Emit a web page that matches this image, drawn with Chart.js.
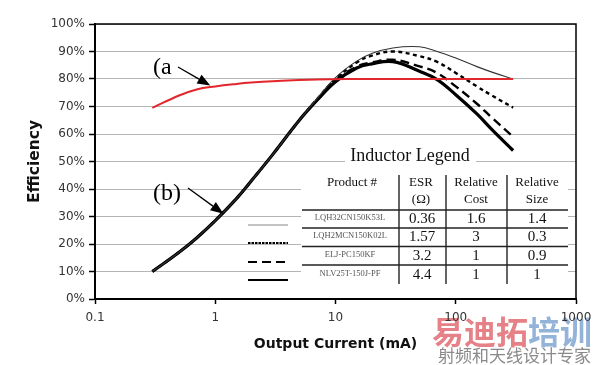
<!DOCTYPE html>
<html>
<head>
<meta charset="utf-8">
<script src="https://cdn.jsdelivr.net/npm/chart.js@4.4.0/dist/chart.umd.min.js"></script>
<style>
  html, body { margin: 0; padding: 0; background: #fff; }
  #wrap { width: 600px; height: 365px; }
</style>
</head>
<body>
<div id="wrap"><canvas id="effChart" width="600" height="365"></canvas></div>
<script>
// output current (mA) and efficiency (%)
let currents = [0.3, 0.5, 0.7, 1, 1.5, 2, 3, 5, 7, 10, 15, 20, 30, 50, 70, 100, 150, 200, 300];
let curveA = [69.5, 74, 76.2, 77.3, 78.2, 78.7, 79.2, 79.6, 79.8, 79.9, 80, 80, 80, 80, 80, 80, 80, 80, 80];
let lqh32 = [10, 17, 22.2, 28.5, 36.5, 43, 52.5, 65, 72.8, 80.5, 86.5, 89.3, 91.3, 91.7, 90, 87.6, 84.5, 82.5, 80];
let lqh2m = [10, 17, 22.2, 28.5, 36.5, 43, 52.5, 65, 72.6, 80, 86, 88.5, 90, 88.3, 86.2, 82.2, 77.3, 74, 69.6];
let eljpc = [10, 17, 22.2, 28.5, 36.5, 43, 52.5, 65, 72.4, 79.5, 84.5, 86, 87, 84.6, 82.2, 77.3, 71, 65.9, 59];
let nlv25 = [10, 17, 22.2, 28.5, 36.5, 43, 52.5, 65, 72.2, 79, 84, 85.5, 86.3, 82.8, 79.8, 74.3, 67.3, 61.6, 54];

let xTickValues = [0.1, 1, 10, 100, 1000];
let xTickLabels = ['0.1', '1', '10', '100', '1000'];

// legend table
let productNames = ['LQH32CN150K53L', 'LQH2MCN150K02L', 'ELJ-PC150KF', 'NLV25T-150J-PF'];
let esrValues = ['0.36', '1.57', '3.2', '4.4'];
let relCost = ['1.6', '3', '1', '1'];
let relSize = ['1.4', '0.3', '0.9', '1'];

function pts(ys) {
    return currents.map((c, i) => ({ x: c, y: ys[i] }));
}

function arrow(ctx, x1, y1, x2, y2) {
    let ang = Math.atan2(y2 - y1, x2 - x1);
    let len = 13, half = 5;
    let bx = x2 - len * Math.cos(ang), by = y2 - len * Math.sin(ang);
    ctx.strokeStyle = '#000';
    ctx.lineWidth = 1.3;
    ctx.beginPath();
    ctx.moveTo(x1, y1);
    ctx.lineTo(bx, by);
    ctx.stroke();
    ctx.fillStyle = '#000';
    ctx.beginPath();
    ctx.moveTo(x2, y2);
    ctx.lineTo(bx + half * Math.sin(ang), by - half * Math.cos(ang));
    ctx.lineTo(bx - half * Math.sin(ang), by + half * Math.cos(ang));
    ctx.closePath();
    ctx.fill();
}

const backgroundPlugin = {
    id: 'bg',
    beforeDraw(chart) {
        let ctx = chart.ctx;
        ctx.save();
        ctx.fillStyle = '#fff';
        ctx.fillRect(0, 0, chart.width, chart.height);
        // watermark
        ctx.textBaseline = 'middle';
        ctx.textAlign = 'left';
        ctx.font = 'bold 32px "Noto Sans CJK SC"';
        ctx.fillStyle = '#e58187';
        ctx.fillText('易迪拓', 432, 332);
        let w = ctx.measureText('易迪拓').width;
        ctx.fillStyle = '#94b3d9';
        ctx.fillText('培训', 432 + w, 332);
        ctx.font = '17px "Noto Sans CJK SC"';
        ctx.fillStyle = '#8a8a8a';
        ctx.fillText('射频和天线设计专家', 438, 356);
        ctx.restore();
    }
};

const overlayPlugin = {
    id: 'overlay',
    afterDraw(chart) {
        let ctx = chart.ctx;
        let a = chart.chartArea;
        let xs = chart.scales.x, ys = chart.scales.y;
        ctx.save();
        // frame top and right
        ctx.strokeStyle = '#000';
        ctx.lineWidth = 1.5;
        ctx.beginPath();
        ctx.moveTo(a.left, a.top);
        ctx.lineTo(a.right, a.top);
        ctx.lineTo(a.right, a.bottom);
        ctx.stroke();

        // (a) and (b) labels
        ctx.fillStyle = '#000';
        ctx.font = '24px "Liberation Serif"';
        ctx.textBaseline = 'alphabetic';
        ctx.textAlign = 'left';
        ctx.fillText('(a', 153, 74);
        arrow(ctx, 178, 67, xs.getPixelForValue(0.91), ys.getPixelForValue(77.6));
        ctx.fillText('(b)', 153, 200);
        arrow(ctx, 188, 188, xs.getPixelForValue(1.17), ys.getPixelForValue(31));

        // legend table
        ctx.fillStyle = '#fff';
        ctx.fillRect(345, 148, 131, 14);
        ctx.fillRect(301, 168, 267, 119);
        ctx.fillStyle = '#111';
        ctx.textAlign = 'center';
        ctx.textBaseline = 'middle';
        ctx.font = '18px "Liberation Serif"';
        ctx.fillText('Inductor Legend', 410, 156);
        ctx.font = '13px "Liberation Serif"';
        ctx.fillText('Product #', 352, 183);
        ctx.fillText('ESR', 421, 183);
        ctx.fillText('(\u03A9)', 421, 200);
        ctx.fillText('Relative', 476, 183);
        ctx.fillText('Cost', 476, 200);
        ctx.fillText('Relative', 537, 183);
        ctx.fillText('Size', 537, 200);

        let rowY = [219, 237, 256, 275];
        for (let i = 0; i < productNames.length; i++) {
            ctx.font = '8.5px "Liberation Serif"';
            ctx.fillStyle = '#555';
            ctx.fillText(productNames[i], 350, rowY[i] - 1);
            ctx.font = '15px "Liberation Serif"';
            ctx.fillStyle = '#111';
            ctx.fillText(esrValues[i], 422, rowY[i]);
            ctx.fillText(relCost[i], 476, rowY[i]);
            ctx.fillText(relSize[i], 537, rowY[i]);
        }
        // table rules
        ctx.strokeStyle = '#222';
        ctx.lineWidth = 1.6;
        [210, 228, 246.5, 265].forEach(y => {
            ctx.beginPath();
            ctx.moveTo(302, y);
            ctx.lineTo(568, y);
            ctx.stroke();
        });
        ctx.lineWidth = 1.4;
        [399, 446, 507].forEach(x => {
            ctx.beginPath();
            ctx.moveTo(x, 175);
            ctx.lineTo(x, 284);
            ctx.stroke();
        });

        // line samples drawn with each dataset's style
        let sampleY = [225, 243, 262, 280];
        for (let i = 0; i < 4; i++) {
            let ds = chart.data.datasets[i + 1];
            ctx.strokeStyle = i === 0 ? '#888' : ds.borderColor;
            ctx.lineWidth = i === 0 ? 1.2 : 2.2;
            ctx.setLineDash(i === 1 ? [2.5, 1] : (ds.borderDash || []));
            ctx.beginPath();
            ctx.moveTo(248, sampleY[i]);
            ctx.lineTo(288, sampleY[i]);
            ctx.stroke();
        }
        ctx.setLineDash([]);
        ctx.restore();
    }
};

const ctx = document.getElementById('effChart').getContext('2d');
const chart = new Chart(ctx, {
    type: 'line',
    data: {
        datasets: [{
            label: '(a)',
            data: pts(curveA),
            borderColor: '#e3262b',
            borderWidth: 2,
        }, {
            label: productNames[0],
            data: pts(lqh32),
            borderColor: '#333',
            borderWidth: 1.1,
        }, {
            label: productNames[1],
            data: pts(lqh2m),
            borderColor: '#000',
            borderWidth: 2.4,
            borderDash: [4, 3.5],
        }, {
            label: productNames[2],
            data: pts(eljpc),
            borderColor: '#000',
            borderWidth: 2.4,
            borderDash: [9, 5],
        }, {
            label: productNames[3],
            data: pts(nlv25),
            borderColor: '#000',
            borderWidth: 3.2,
        }]
    },
    options: {
        responsive: false,
        animation: false,
        devicePixelRatio: 1,
        layout: { padding: { left: 0, right: 24, top: 24, bottom: 0 } },
        elements: {
            point: { radius: 0 },
            line: { tension: 0.4, fill: false }
        },
        plugins: {
            legend: { display: false },
            tooltip: { enabled: false }
        },
        scales: {
            x: {
                type: 'logarithmic',
                min: 0.1,
                max: 1000,
                afterBuildTicks: s => { s.ticks = xTickValues.map(v => ({ value: v })); },
                afterFit: s => { s.height = 66; },
                ticks: {
                    callback: (v) => xTickLabels[xTickValues.indexOf(v)],
                    color: '#333',
                    font: { family: 'DejaVu Sans', size: 12 },
                    padding: 7,
                    maxRotation: 0,
                    autoSkip: false
                },
                grid: { drawOnChartArea: false, tickLength: 5, tickColor: '#000', tickWidth: 1.5 },
                border: { color: '#000', width: 2 },
                title: {
                    display: true,
                    text: 'Output Current (mA)',
                    color: '#111',
                    font: { family: 'DejaVu Sans', size: 14, weight: 'bold' },
                    padding: { top: 0, bottom: 12 }
                }
            },
            y: {
                min: 0,
                max: 100,
                afterFit: s => { s.width = 95; },
                ticks: {
                    stepSize: 10,
                    callback: v => v + '%',
                    color: '#333',
                    font: { family: 'DejaVu Sans', size: 12 },
                    padding: 4
                },
                grid: { color: '#b5b5b5', lineWidth: 1, tickLength: 6, tickColor: '#000', tickWidth: 1.5 },
                border: { color: '#000', width: 2 },
                title: {
                    display: true,
                    text: 'Efficiency',
                    color: '#111',
                    font: { family: 'DejaVu Sans', size: 15.5, weight: 'bold' },
                    padding: { top: 26, bottom: 0 }
                }
            }
        }
    },
    plugins: [backgroundPlugin, overlayPlugin]
});
</script>
</body>
</html>
